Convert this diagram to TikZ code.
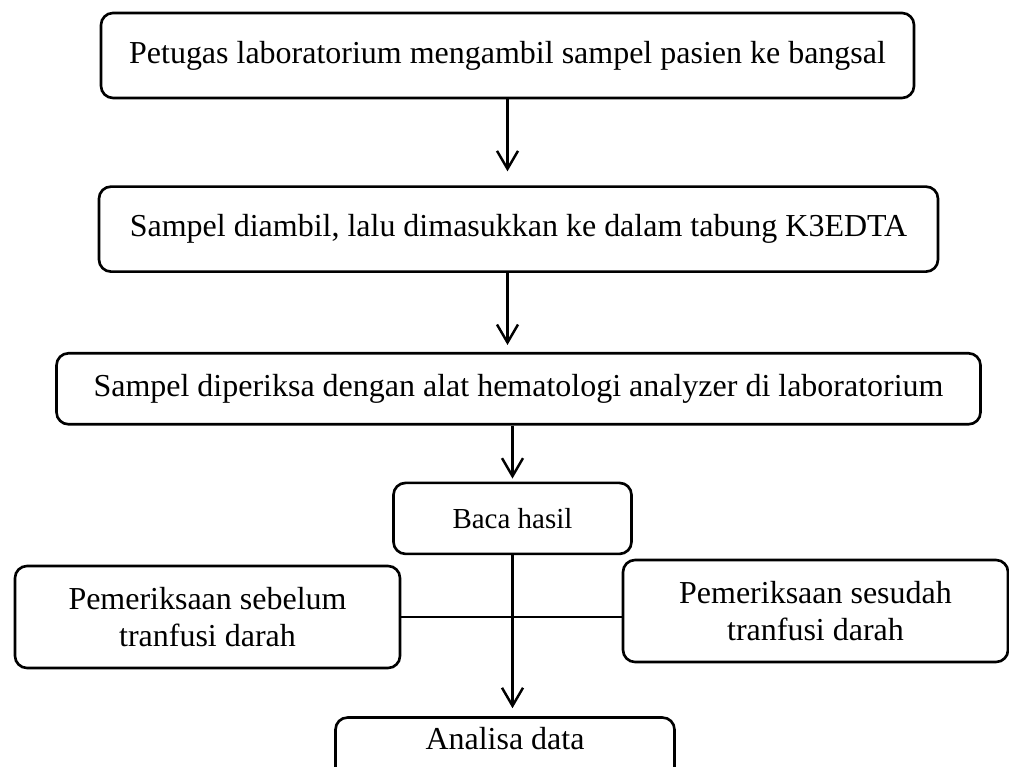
\documentclass[tikz,border=0pt]{standalone}
\usepackage{fontspec}
\setmainfont{Liberation Serif}
\usepackage{tikz}
\usetikzlibrary{positioning,arrows.meta}

\begin{document}
\begin{tikzpicture}[node distance=1.6cm,
		box/.style={draw, rounded corners=0.24cm, line width=1.5pt, align=center,
			font=\fontsize{18.2}{21}\selectfont},
		>={Straight Barb[length=0.36cm,width=0.42cm]}]
		\clip (0,0) rectangle (20.18,-15.34);
		\useasboundingbox (0,0) rectangle (20.18,-15.34);
		\node[box, minimum width=16.26cm, minimum height=1.7cm] (ambil) at (10.15,-1.11) {Petugas laboratorium mengambil sampel pasien ke bangsal};
		\node[box, minimum width=16.78cm, minimum height=1.7cm, below=1.72cm of ambil, xshift=0.22cm] (tabung) {Sampel diambil, lalu dimasukkan ke dalam tabung K3EDTA};
		\node[box, minimum width=18.48cm, minimum height=1.42cm, below=1.58cm of tabung] (periksa) {Sampel diperiksa dengan alat hematologi analyzer di laboratorium};
		\node[box, minimum width=4.76cm, minimum height=1.42cm, below=1.12cm of periksa, xshift=-0.12cm, font=\fontsize{16.5}{20}\selectfont] (baca) {Baca hasil};
		\node[box, minimum width=6.78cm, minimum height=1.4cm, text depth=0.55cm, below=3.22cm of baca, xshift=-0.15cm] (analisa) {Analisa data};
		\node[box, minimum width=7.7cm, minimum height=2.04cm] (sebelum) at (4.15,-12.34) {Pemeriksaan sebelum\\tranfusi darah};
		\node[box, minimum width=7.7cm, minimum height=2.04cm] (sesudah) at (16.31,-12.22) {Pemeriksaan sesudah\\tranfusi darah};
		\draw[->, line width=1.4pt, shorten >=0.28cm] (ambil.south) -- (ambil.south |- tabung.north);
		\draw[->, line width=1.4pt, shorten >=0.14cm] (tabung.south -| ambil) -- (periksa.north -| ambil);
		\draw[->, line width=1.4pt, shorten >=0.06cm] (periksa.south -| baca) -- (baca.north);
		\draw[->, line width=1.4pt, shorten >=0.16cm] (baca.south) -- (baca.south |- analisa.north);
		\draw[line width=0.8pt] (sebelum.east) -- (sebelum.east -| sesudah.west);
\end{tikzpicture}
\end{document}
